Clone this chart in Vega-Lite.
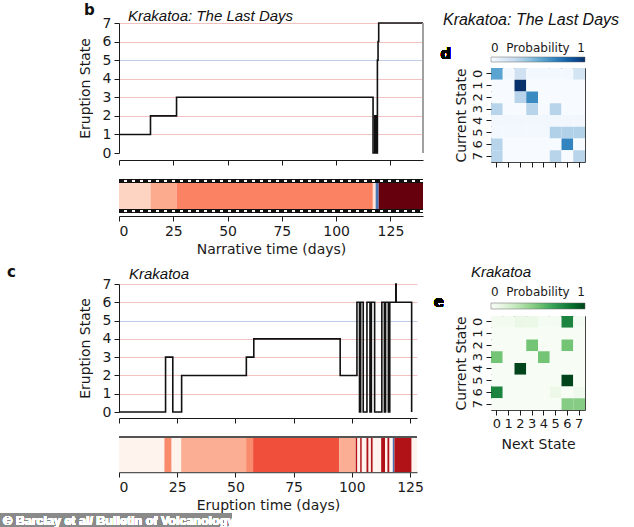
{
  "$schema": "https://vega.github.io/schema/vega-lite/v6.json",
  "background": "white",
  "padding": {"left": 0, "top": 3, "right": 0, "bottom": 0},
  "spacing": 6,
  "config": {
    "view": {"stroke": null},
    "font": "DejaVu Sans",
    "axis": {
      "labelFont": "DejaVu Sans",
      "titleFont": "DejaVu Sans",
      "labelColor": "#1a1a1a",
      "titleColor": "#1a1a1a",
      "domainColor": "#1a1a1a",
      "tickColor": "#1a1a1a",
      "titleFontWeight": "normal",
      "grid": false,
      "labelOverlap": false,
      "labelFontSize": 14,
      "titleFontSize": 14
    },
    "legend": {"labelFont": "DejaVu Sans"},
    "title": {"font": "Liberation Sans", "fontStyle": "italic", "fontWeight": "normal", "fontSize": 15, "color": "#111"}
  },
  "datasets": {
    "stepB": [
      {"t": 0, "state": 1}, {"t": 14.5, "state": 2}, {"t": 26.5, "state": 3},
      {"t": 117, "state": 0}, {"t": 117.8, "state": 2}, {"t": 118.5, "state": 0},
      {"t": 119, "state": 5}, {"t": 119.3, "state": 6}, {"t": 119.6, "state": 7},
      {"t": 140, "state": 7}
    ],
    "stripB": [
      {"start": 0, "end": 14.5, "state": "1"},
      {"start": 14.5, "end": 26.5, "state": "2"},
      {"start": 26.5, "end": 116.9, "state": "3"},
      {"start": 116.9, "end": 118.2, "state": "0"},
      {"start": 118.2, "end": 119.6, "state": "t"},
      {"start": 119.6, "end": 140, "state": "7"}
    ],
    "stepC": [
      {"t": 0, "state": 0}, {"t": 20, "state": 3}, {"t": 23.1, "state": 0},
      {"t": 26.9, "state": 2}, {"t": 54.7, "state": 3}, {"t": 57.9, "state": 4},
      {"t": 95, "state": 2}, {"t": 102.2, "state": 6}, {"t": 103.3, "state": 0},
      {"t": 103.8, "state": 6}, {"t": 104.9, "state": 0}, {"t": 106.5, "state": 6},
      {"t": 107.8, "state": 0}, {"t": 108.4, "state": 6}, {"t": 109.8, "state": 0},
      {"t": 112.9, "state": 6}, {"t": 114.0, "state": 0}, {"t": 114.5, "state": 6},
      {"t": 115.7, "state": 0}, {"t": 116.3, "state": 6}, {"t": 118.9, "state": 7},
      {"t": 119.05, "state": 6}, {"t": 125.7, "state": 0}
    ],
    "stripC": [
      {"start": 0, "end": 19.5, "state": "0"},
      {"start": 19.5, "end": 22.6, "state": "3"},
      {"start": 22.6, "end": 26.7, "state": "0"},
      {"start": 26.7, "end": 54.6, "state": "2"},
      {"start": 54.6, "end": 57.6, "state": "3"},
      {"start": 57.6, "end": 94.6, "state": "4"},
      {"start": 94.6, "end": 101.7, "state": "2"},
      {"start": 101.7, "end": 102.4, "state": "6"},
      {"start": 102.4, "end": 103.6, "state": "0"},
      {"start": 103.6, "end": 104.3, "state": "6"},
      {"start": 104.3, "end": 106.3, "state": "0"},
      {"start": 106.3, "end": 107.2, "state": "6"},
      {"start": 107.2, "end": 108.2, "state": "0"},
      {"start": 108.2, "end": 109.0, "state": "6"},
      {"start": 109.0, "end": 112.6, "state": "0"},
      {"start": 112.6, "end": 114.3, "state": "6"},
      {"start": 114.3, "end": 115.3, "state": "0"},
      {"start": 115.3, "end": 116.2, "state": "6"},
      {"start": 116.2, "end": 117.6, "state": "0"},
      {"start": 117.6, "end": 118.3, "state": "t"},
      {"start": 118.3, "end": 125.7, "state": "6"},
      {"start": 125.7, "end": 128, "state": "0"}
    ],
    "matD": [
      {"c": 0, "n": 0, "p": 0.55}, {"c": 0, "n": 1, "p": 0.02}, {"c": 0, "n": 2, "p": 0.2}, {"c": 0, "n": 3, "p": 0.02},
      {"c": 0, "n": 4, "p": 0.02}, {"c": 0, "n": 5, "p": 0.02}, {"c": 0, "n": 6, "p": 0.02}, {"c": 0, "n": 7, "p": 0.18},
      {"c": 1, "n": 0, "p": 0}, {"c": 1, "n": 1, "p": 0}, {"c": 1, "n": 2, "p": 1}, {"c": 1, "n": 3, "p": 0},
      {"c": 1, "n": 4, "p": 0}, {"c": 1, "n": 5, "p": 0}, {"c": 1, "n": 6, "p": 0}, {"c": 1, "n": 7, "p": 0},
      {"c": 2, "n": 0, "p": 0}, {"c": 2, "n": 1, "p": 0}, {"c": 2, "n": 2, "p": 0.3}, {"c": 2, "n": 3, "p": 0.65},
      {"c": 2, "n": 4, "p": 0}, {"c": 2, "n": 5, "p": 0}, {"c": 2, "n": 6, "p": 0}, {"c": 2, "n": 7, "p": 0},
      {"c": 3, "n": 0, "p": 0.3}, {"c": 3, "n": 1, "p": 0}, {"c": 3, "n": 2, "p": 0}, {"c": 3, "n": 3, "p": 0.3},
      {"c": 3, "n": 4, "p": 0}, {"c": 3, "n": 5, "p": 0.3}, {"c": 3, "n": 6, "p": 0}, {"c": 3, "n": 7, "p": 0},
      {"c": 4, "n": 0, "p": 0.03}, {"c": 4, "n": 1, "p": 0.03}, {"c": 4, "n": 2, "p": 0.03}, {"c": 4, "n": 3, "p": 0.03},
      {"c": 4, "n": 4, "p": 0.03}, {"c": 4, "n": 5, "p": 0.03}, {"c": 4, "n": 6, "p": 0.03}, {"c": 4, "n": 7, "p": 0.03},
      {"c": 5, "n": 0, "p": 0.02}, {"c": 5, "n": 1, "p": 0.02}, {"c": 5, "n": 2, "p": 0.02}, {"c": 5, "n": 3, "p": 0.02},
      {"c": 5, "n": 4, "p": 0.02}, {"c": 5, "n": 5, "p": 0.32}, {"c": 5, "n": 6, "p": 0.32}, {"c": 5, "n": 7, "p": 0.32},
      {"c": 6, "n": 0, "p": 0.3}, {"c": 6, "n": 1, "p": 0}, {"c": 6, "n": 2, "p": 0}, {"c": 6, "n": 3, "p": 0},
      {"c": 6, "n": 4, "p": 0}, {"c": 6, "n": 5, "p": 0}, {"c": 6, "n": 6, "p": 0.68}, {"c": 6, "n": 7, "p": 0},
      {"c": 7, "n": 0, "p": 0.3}, {"c": 7, "n": 1, "p": 0}, {"c": 7, "n": 2, "p": 0}, {"c": 7, "n": 3, "p": 0},
      {"c": 7, "n": 4, "p": 0}, {"c": 7, "n": 5, "p": 0.3}, {"c": 7, "n": 6, "p": 0}, {"c": 7, "n": 7, "p": 0.3}
    ],
    "matE": [
      {"c": 0, "n": 0, "p": 0.03}, {"c": 0, "n": 1, "p": 0.03}, {"c": 0, "n": 2, "p": 0.08}, {"c": 0, "n": 3, "p": 0.08},
      {"c": 0, "n": 4, "p": 0.02}, {"c": 0, "n": 5, "p": 0.02}, {"c": 0, "n": 6, "p": 0.78}, {"c": 0, "n": 7, "p": 0.02},
      {"c": 1, "n": 0, "p": 0}, {"c": 1, "n": 1, "p": 0}, {"c": 1, "n": 2, "p": 0}, {"c": 1, "n": 3, "p": 0},
      {"c": 1, "n": 4, "p": 0}, {"c": 1, "n": 5, "p": 0}, {"c": 1, "n": 6, "p": 0}, {"c": 1, "n": 7, "p": 0},
      {"c": 2, "n": 0, "p": 0}, {"c": 2, "n": 1, "p": 0}, {"c": 2, "n": 2, "p": 0}, {"c": 2, "n": 3, "p": 0.5},
      {"c": 2, "n": 4, "p": 0}, {"c": 2, "n": 5, "p": 0}, {"c": 2, "n": 6, "p": 0.5}, {"c": 2, "n": 7, "p": 0},
      {"c": 3, "n": 0, "p": 0.5}, {"c": 3, "n": 1, "p": 0}, {"c": 3, "n": 2, "p": 0}, {"c": 3, "n": 3, "p": 0},
      {"c": 3, "n": 4, "p": 0.5}, {"c": 3, "n": 5, "p": 0}, {"c": 3, "n": 6, "p": 0}, {"c": 3, "n": 7, "p": 0},
      {"c": 4, "n": 0, "p": 0}, {"c": 4, "n": 1, "p": 0}, {"c": 4, "n": 2, "p": 1}, {"c": 4, "n": 3, "p": 0},
      {"c": 4, "n": 4, "p": 0}, {"c": 4, "n": 5, "p": 0}, {"c": 4, "n": 6, "p": 0}, {"c": 4, "n": 7, "p": 0},
      {"c": 5, "n": 0, "p": 0}, {"c": 5, "n": 1, "p": 0}, {"c": 5, "n": 2, "p": 0}, {"c": 5, "n": 3, "p": 0},
      {"c": 5, "n": 4, "p": 0}, {"c": 5, "n": 5, "p": 0}, {"c": 5, "n": 6, "p": 1}, {"c": 5, "n": 7, "p": 0},
      {"c": 6, "n": 0, "p": 0.78}, {"c": 6, "n": 1, "p": 0}, {"c": 6, "n": 2, "p": 0}, {"c": 6, "n": 3, "p": 0},
      {"c": 6, "n": 4, "p": 0}, {"c": 6, "n": 5, "p": 0.07}, {"c": 6, "n": 6, "p": 0}, {"c": 6, "n": 7, "p": 0.05},
      {"c": 7, "n": 0, "p": 0}, {"c": 7, "n": 1, "p": 0}, {"c": 7, "n": 2, "p": 0}, {"c": 7, "n": 3, "p": 0},
      {"c": 7, "n": 4, "p": 0}, {"c": 7, "n": 5, "p": 0}, {"c": 7, "n": 6, "p": 0.45}, {"c": 7, "n": 7, "p": 0.45}
    ]
  },
  "resolve": {"scale": {"x": "independent", "y": "independent", "color": "independent"}},
  "hconcat": [
    {
      "spacing": 9,
      "resolve": {"scale": {"x": "independent", "y": "independent", "color": "independent"}},
      "vconcat": [
        {
          "title": {"text": "b", "anchor": "start", "frame": "bounds", "dx": 6, "offset": -9, "font": "DejaVu Sans", "fontStyle": "normal", "fontWeight": "bold", "fontSize": 15},
          "spacing": 13,
          "resolve": {"scale": {"x": "independent", "y": "independent", "color": "independent"}},
          "vconcat": [
            {
              "width": 304,
              "height": 130,
              "data": {"name": "stepB"},
              "title": {"text": "Krakatoa: The Last Days", "anchor": "start", "frame": "group", "dx": 9, "offset": -8},
              "layer": [
                {
                  "mark": {"type": "line", "interpolate": "step-after", "color": "#111", "strokeWidth": 1.6},
                  "encoding": {
                    "x": {"field": "t", "type": "quantitative", "scale": {"domain": [0, 140], "nice": false, "zero": false},
                      "axis": {"values": [0, 25, 50, 75, 100, 125], "labels": false, "title": null, "offset": 7, "tickSize": 5}},
                    "y": {"field": "state", "type": "quantitative", "scale": {"domain": [0, 7], "nice": false},
                      "axis": {"values": [0, 1, 2, 3, 4, 5, 6, 7], "title": "Eruption State", "grid": true,
                        "gridColor": {"condition": {"test": "datum.value === 5", "value": "#bccfe6"}, "value": "#f2c2c0"},
                        "gridOpacity": {"condition": {"test": "datum.value === 0", "value": 0}, "value": 1},
                        "tickSize": 5, "labelPadding": 3, "titlePadding": 10}}
                  }
                },
                {
                  "mark": {"type": "rule", "color": "#a0a0a0", "strokeWidth": 1},
                  "encoding": {
                    "x": {"datum": 140,
                      "axis": {"values": [0, 25, 50, 75, 100, 125], "labels": false, "title": null, "offset": 7, "tickSize": 5}}
                  }
                }
              ]
            },
            {
              "width": 304,
              "height": 34,
              "data": {"name": "stripB"},
              "layer": [
                {
                  "mark": {"type": "rect"},
                  "encoding": {
                    "x": {"field": "start", "type": "quantitative", "scale": {"domain": [0, 140], "nice": false, "zero": false},
                      "axis": {"values": [0, 25, 50, 75, 100, 125], "title": "Narrative time (days)", "offset": 3, "tickSize": 5, "labelPadding": 3, "titlePadding": 4}},
                    "x2": {"field": "end"},
                    "color": {"field": "state", "type": "nominal",
                      "scale": {"domain": ["0", "1", "2", "3", "t", "7"], "range": ["#fee3d6", "#fdd4c2", "#fcab8f", "#fb8262", "#4a78b5", "#67000d"]},
                      "legend": null}
                  }
                },
                {"mark": {"type": "rule", "color": "#111", "strokeWidth": 4}, "encoding": {"y": {"datum": 0.94, "scale": {"domain": [0, 1], "nice": false, "zero": false}, "axis": null}}},
                {"mark": {"type": "rule", "color": "#111", "strokeWidth": 4}, "encoding": {"y": {"datum": 0.06, "axis": null}}},
                {"mark": {"type": "rule", "color": "white", "strokeWidth": 1.6, "strokeDash": [3, 5]}, "encoding": {"y": {"datum": 0.94, "axis": null}}},
                {"mark": {"type": "rule", "color": "white", "strokeWidth": 1.6, "strokeDash": [3, 5]}, "encoding": {"y": {"datum": 0.06, "axis": null}}}
              ]
            }
          ]
        },
        {
          "title": {"text": "c", "anchor": "start", "frame": "bounds", "dx": 7, "offset": -13, "font": "DejaVu Sans", "fontStyle": "normal", "fontWeight": "bold", "fontSize": 15},
          "spacing": 12,
          "resolve": {"scale": {"x": "independent", "y": "independent", "color": "independent"}},
          "vconcat": [
            {
              "width": 298,
              "height": 128,
              "data": {"name": "stepC"},
              "title": {"text": "Krakatoa", "anchor": "start", "frame": "group", "dx": 10, "offset": -5},
              "mark": {"type": "line", "interpolate": "step-after", "color": "#111", "strokeWidth": 1.6},
              "encoding": {
                "x": {"field": "t", "type": "quantitative", "scale": {"domain": [0, 128], "nice": false, "zero": false},
                  "axis": {"values": [0, 25, 50, 75, 100, 125], "labels": false, "title": null, "offset": 6, "tickSize": 5}},
                "y": {"field": "state", "type": "quantitative", "scale": {"domain": [0, 7], "nice": false},
                  "axis": {"values": [0, 1, 2, 3, 4, 5, 6, 7], "title": "Eruption State", "grid": true,
                    "gridColor": {"condition": {"test": "datum.value === 5", "value": "#bccfe6"}, "value": "#f2c2c0"},
                    "gridOpacity": {"condition": {"test": "datum.value === 0", "value": 0}, "value": 1},
                    "tickSize": 5, "labelPadding": 3, "titlePadding": 10}}
              }
            },
            {
              "width": 298,
              "height": 35,
              "data": {"name": "stripC"},
              "layer": [
                {
                  "mark": {"type": "rect"},
                  "encoding": {
                    "x": {"field": "start", "type": "quantitative", "scale": {"domain": [0, 128], "nice": false, "zero": false},
                      "axis": {"values": [0, 25, 50, 75, 100, 125], "title": "Eruption time (days)", "offset": 0, "tickSize": 5, "labelPadding": 3, "titlePadding": 4, "domainColor": "#555", "domainWidth": 1.5}},
                    "x2": {"field": "end"},
                    "color": {"field": "state", "type": "nominal",
                      "scale": {"domain": ["0", "2", "3", "4", "6", "t"], "range": ["#fff3ed", "#fcae94", "#f98a6b", "#f0503b", "#b01217", "#4a6fb0"]},
                      "legend": null}
                  }
                },
                {"mark": {"type": "rule", "color": "#555", "strokeWidth": 1.5}, "encoding": {"y": {"datum": 1, "scale": {"domain": [0, 1], "nice": false, "zero": false}, "axis": null}}},
                {
                  "mark": {"type": "rect", "color": "#8a8a8a"},
                  "encoding": {
                    "x": {"datum": -51.1,
                      "axis": {"values": [0, 25, 50, 75, 100, 125], "title": "Eruption time (days)", "offset": 0, "tickSize": 5, "labelPadding": 3, "titlePadding": 4, "domainColor": "#555", "domainWidth": 1.5}},
                    "x2": {"datum": 48.5},
                    "y": {"datum": -1.17, "axis": null},
                    "y2": {"datum": -1.63}
                  }
                },
                {
                  "mark": {"type": "text", "text": "© Barclay et al/ Bulletin of Volcanology", "color": "white", "font": "Liberation Sans", "fontWeight": "bold", "fontSize": 12.5, "align": "left", "baseline": "middle"},
                  "encoding": {
                    "x": {"datum": -49.8,
                      "axis": {"values": [0, 25, 50, 75, 100, 125], "title": "Eruption time (days)", "offset": 0, "tickSize": 5, "labelPadding": 3, "titlePadding": 4, "domainColor": "#555", "domainWidth": 1.5}},
                    "y": {"datum": -1.4, "axis": null}
                  }
                }
              ]
            }
          ]
        }
      ]
    },
    {
      "spacing": 96,
      "resolve": {"scale": {"x": "independent", "y": "independent", "color": "independent"}},
      "vconcat": [
        {
          "spacing": -13,
          "resolve": {"scale": {"x": "independent", "y": "independent", "color": "independent"}},
          "vconcat": [
            {
              "width": 94,
              "height": 1,
              "data": {"values": []},
              "mark": {"type": "rect"},
              "encoding": {}
            },
            {
              "width": 94,
              "height": 94,
              "data": {"name": "matD"},
              "view": {"stroke": "#444", "strokeWidth": 1},
              "title": {"text": "Krakatoa: The Last Days", "anchor": "middle", "frame": "group", "dx": -7, "offset": 19, "fontSize": 16},
              "layer": [
                {
                  "mark": {"type": "rect"},
                  "encoding": {
                    "x": {"field": "n", "type": "ordinal", "scale": {"domain": [0, 1, 2, 3, 4, 5, 6, 7]},
                      "axis": {"title": null, "labels": false, "domain": false, "tickSize": 5}},
                    "y": {"field": "c", "type": "ordinal", "scale": {"domain": [0, 1, 2, 3, 4, 5, 6, 7]},
                      "axis": {"title": "Current State", "labelAngle": -90, "labelFontSize": 13, "titleFontSize": 14, "domain": false, "tickSize": 5, "labelPadding": 2, "titlePadding": 3}},
                    "color": {"field": "p", "type": "quantitative",
                      "scale": {"domain": [0, 0.125, 0.25, 0.375, 0.5, 0.625, 0.75, 0.875, 1],
                        "range": ["#f7fbff", "#deebf7", "#c6dbef", "#9ecae1", "#6baed6", "#4292c6", "#2171b5", "#08519c", "#08306b"]},
                      "legend": {"orient": "top", "direction": "horizontal", "title": null, "gradientLength": 94, "gradientThickness": 5,
                        "values": [0, 0.5, 1], "labelExpr": "datum.value == 0.5 ? 'Probability' : (datum.value == 0 ? '0' : '1')",
                        "labelAlign": "center", "labelOffset": -19, "labelFontSize": 12, "labelColor": "#1a1a1a", "labelOverlap": false,
                        "gradientStrokeColor": "#666", "gradientStrokeWidth": 0.5, "offset": 5}}
                  }
                },
                {
                  "mark": {"type": "text", "text": "d", "font": "DejaVu Sans", "fontWeight": "bold", "fontSize": 15, "dx": -51, "dy": -20},
                  "encoding": {"x": {"datum": 0, "type": "ordinal"}, "y": {"datum": 0, "type": "ordinal"}}
                }
              ]
            }
          ]
        },
        {
          "width": 94,
          "height": 94,
          "data": {"name": "matE"},
          "view": {"stroke": "#444", "strokeWidth": 1},
          "title": {"text": "Krakatoa", "anchor": "middle", "frame": "group", "dx": -37, "offset": 15},
          "layer": [
            {
              "mark": {"type": "rect"},
              "encoding": {
                "x": {"field": "n", "type": "ordinal", "scale": {"domain": [0, 1, 2, 3, 4, 5, 6, 7]},
                  "axis": {"title": "Next State", "labelAngle": 0, "labelFontSize": 13, "titleFontSize": 14, "domain": false, "tickSize": 5, "labelPadding": 2, "titlePadding": 7}},
                "y": {"field": "c", "type": "ordinal", "scale": {"domain": [0, 1, 2, 3, 4, 5, 6, 7]},
                  "axis": {"title": "Current State", "labelAngle": -90, "labelFontSize": 13, "titleFontSize": 14, "domain": false, "tickSize": 5, "labelPadding": 2, "titlePadding": 3}},
                "color": {"field": "p", "type": "quantitative",
                  "scale": {"domain": [0, 0.125, 0.25, 0.375, 0.5, 0.625, 0.75, 0.875, 1],
                    "range": ["#f7fcf5", "#e5f5e0", "#c7e9c0", "#a1d99b", "#74c476", "#41ab5d", "#238b45", "#006d2c", "#00441b"]},
                  "legend": {"orient": "top", "direction": "horizontal", "title": null, "gradientLength": 94, "gradientThickness": 6,
                    "values": [0, 0.5, 1], "labelExpr": "datum.value == 0.5 ? 'Probability' : (datum.value == 0 ? '0' : '1')",
                    "labelAlign": "center", "labelOffset": -22, "labelFontSize": 12, "labelColor": "#1a1a1a", "labelOverlap": false,
                    "gradientStrokeColor": "#666", "gradientStrokeWidth": 0.5, "offset": 6}}
              }
            },
            {
              "mark": {"type": "text", "text": "e", "font": "DejaVu Sans", "fontWeight": "bold", "fontSize": 15, "dx": -58, "dy": -20},
              "encoding": {"x": {"datum": 0, "type": "ordinal"}, "y": {"datum": 0, "type": "ordinal"}}
            }
          ]
        }
      ]
    }
  ]
}
